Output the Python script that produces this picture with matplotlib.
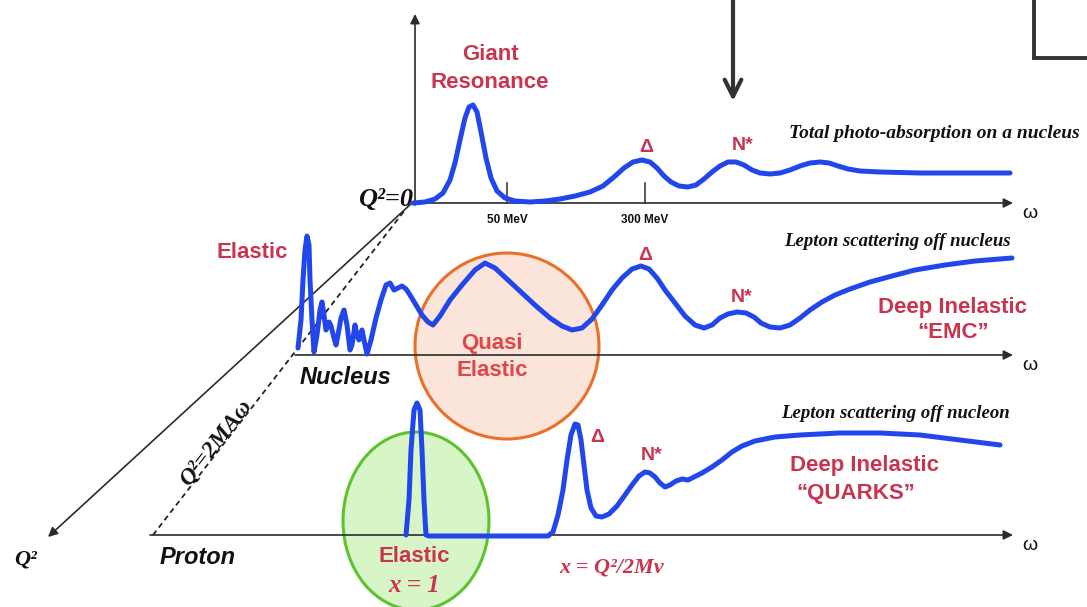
import matplotlib
matplotlib.use("Agg")
import matplotlib.pyplot as plt
from matplotlib.patches import Ellipse

# curves, in pixel coords (y down)
top_x = [413, 425, 435, 443, 450, 455, 460, 465, 469, 473, 477, 481, 486, 491, 497, 505, 515, 530, 545, 560,
         575, 590, 603, 614, 624, 633, 642, 650, 657, 664, 671, 679, 688, 696, 704, 712, 720, 728, 736, 744,
         752, 760, 770, 780, 790, 800, 810, 820, 829, 838, 848, 860, 880, 920, 1010]
top_y = [203, 202, 199, 193, 180, 163, 140, 118, 107, 105, 112, 132, 158, 178, 191, 198, 201, 202, 201, 199,
         196, 192, 186, 177, 168, 162, 160, 162, 168, 176, 182, 186, 187, 185, 179, 172, 166, 162, 162, 165,
         170, 173, 174, 173, 170, 166, 163, 162, 163, 166, 169, 171, 172, 173, 173]

mid_x = [298, 301, 303, 305, 307, 309, 310, 312, 314, 317, 320, 322, 324, 326, 329, 331, 334, 336, 338, 341,
         344, 347, 350, 352, 355, 357, 359, 362, 364, 367, 371, 376, 381, 386, 390, 394, 398, 402, 406, 410,
         416, 422, 428, 433, 440, 450, 462, 475, 485, 495, 508, 522, 536, 550, 562, 572, 582, 592, 602, 612,
         622, 632, 641, 649, 657, 665, 675, 685, 695, 704, 712, 720, 728, 737, 746, 754, 761, 770, 780, 790,
         800, 810, 822, 835, 850, 870, 892, 915, 945, 975, 1012]
mid_y = [348, 320, 280, 250, 236, 245, 280, 320, 352, 335, 310, 302, 315, 330, 322, 326, 338, 345, 335, 318,
         310, 325, 350, 345, 325, 335, 340, 330, 340, 354, 340, 318, 300, 285, 283, 290, 288, 286, 289, 295,
         305, 315, 322, 325, 316, 300, 285, 270, 263, 268, 280, 293, 306, 318, 326, 330, 328, 319, 305, 290,
         278, 269, 266, 269, 278, 290, 303, 316, 325, 328, 325, 318, 314, 312, 313, 317, 323, 327, 328, 325,
         318, 310, 302, 295, 289, 282, 276, 270, 265, 261, 258]

bot_x = [406, 409, 411, 414, 417, 420, 422, 424, 426, 429, 450, 480, 520, 548, 553, 558, 563, 567, 571, 575,
         578, 581, 584, 587, 591, 596, 602, 609, 617, 625, 632, 639, 645, 650, 655, 660, 665, 670, 676, 682,
         688, 694, 702, 712, 722, 732, 742, 755, 775, 800, 840, 880, 920, 960, 1000]
bot_y = [535, 500, 450, 410, 403, 410, 450, 500, 535, 536, 536, 536, 536, 536, 532, 515, 490, 460, 435, 424,
         425, 440, 465, 490, 508, 516, 517, 514, 506, 495, 485, 476, 472, 473, 477, 483, 487, 485, 481, 479,
         480, 477, 473, 467, 460, 452, 446, 441, 437, 435, 433, 433, 435, 440, 445]

baselines_y = [203, 355, 535]
baseline_start = [415, 295, 150]
tick_x = [507, 645]
tick_labels = ["50 MeV", "300 MeV"]

RED = "#c9344f"
QRED = "#e0454a"
BLUE = "#2146ec"
INK = "#2b2b2b"
SANS = "Liberation Sans"
SERIF = "Liberation Serif"

fig = plt.figure(figsize=(10.87, 6.07), dpi=100)
ax = fig.add_axes([0, 0, 1, 1])
ax.set_xlim(0, 1087)
ax.set_ylim(607, 0)
ax.axis("off")

# highlight regions
ax.add_patch(Ellipse((507, 346), 184, 186, facecolor="#fbe4d9", edgecolor="#ea6f2b", lw=2.2, zorder=1))
ax.add_patch(Ellipse((416, 521), 146, 178, facecolor="#d8f5c8", edgecolor="#5cc230", lw=2.2, zorder=1))

arrow = dict(arrowstyle="-|>", lw=1.2, color=INK, mutation_scale=14, shrinkA=0, shrinkB=0)

# axes of the sketch
ax.annotate("", xy=(415, 14), xytext=(415, 205), arrowprops=arrow, zorder=2)
for y0, x0 in zip(baselines_y, baseline_start):
    ax.annotate("", xy=(1013, y0), xytext=(x0, y0), arrowprops=arrow, zorder=2)
    ax.text(1022, y0 + 10, "ω", fontsize=14, family=SANS, ha="left", va="center", color="#111")
ax.annotate("", xy=(48, 537), xytext=(412, 203), arrowprops=arrow, zorder=2)
ax.plot([153, 405], [535, 210], ls=(0, (3, 2.2)), lw=1.3, color="#222", zorder=2)

for tx, tl in zip(tick_x, tick_labels):
    ax.plot([tx, tx], [183, 203], lw=1.1, color=INK, zorder=2)
    ax.text(tx, 220, tl, fontsize=8.5, family=SANS, weight="bold", ha="center", va="center", color="#111")

# spectra
for xs, ys in [(top_x, top_y), (mid_x, mid_y), (bot_x, bot_y)]:
    ax.plot(xs, ys, color=BLUE, lw=3.6, solid_joinstyle="round", solid_capstyle="round", zorder=3)

# top-right decorations
ax.annotate("", xy=(733, 101), xytext=(733, -2),
            arrowprops=dict(arrowstyle="->", lw=3, color="#333", mutation_scale=30, shrinkA=0, shrinkB=0))
ax.plot([1034, 1034, 1090], [-2, 58, 58], lw=2.8, color="#333", solid_joinstyle="miter")

# red labels
lab = dict(family=SANS, weight="bold", ha="center", va="center", color=RED)
ax.text(490, 55, "Giant", fontsize=16, **lab)
ax.text(490, 83, "Resonance", fontsize=16, **lab)
ax.text(646, 147, "Δ", fontsize=14, **lab)
ax.text(743, 146, "N*", fontsize=14, **lab)
ax.text(252, 252, "Elastic", fontsize=16, **lab)
ax.text(645, 255, "Δ", fontsize=14, **lab)
ax.text(742, 297, "N*", fontsize=14, **lab)
ax.text(953, 307, "Deep Inelastic", fontsize=16, **lab)
ax.text(953, 333, "“EMC”", fontsize=16, **lab)
ax.text(597, 437, "Δ", fontsize=14, **lab)
ax.text(652, 455, "N*", fontsize=14, **lab)
ax.text(864, 466, "Deep Inelastic", fontsize=16, **lab)
ax.text(856, 494, "“QUARKS”", fontsize=16, **lab)
ax.text(414, 557, "Elastic", fontsize=16, **lab)
qlab = dict(lab, color=QRED)
ax.text(492, 344, "Quasi", fontsize=16, **qlab)
ax.text(492, 370, "Elastic", fontsize=16, **qlab)

sty = dict(family=SERIF, weight="bold", style="italic", va="center")
ax.text(414, 585, "x = 1", fontsize=18, ha="center", color=RED, **sty)
ax.text(612, 567, "x = Q²/2Mv", fontsize=16, ha="center", color=RED, **sty)

# black annotations
ax.text(934, 133, "Total photo-absorption on a nucleus", fontsize=14, ha="center", color="#111", **sty)
ax.text(897, 242, "Lepton scattering off nucleus", fontsize=13.5, ha="center", color="#111", **sty)
ax.text(895, 413, "Lepton scattering off nucleon", fontsize=13.5, ha="center", color="#111", **sty)
ax.text(413, 199, "Q²=0", fontsize=19, ha="right", color="#111", **sty)
ax.text(26, 560, "Q²", fontsize=16, ha="center", color="#111", **sty)
ax.text(216, 443, "Q²=2MAω", fontsize=17, ha="center", color="#111", rotation=52, **sty)
ax.text(345, 377, "Nucleus", fontsize=17, ha="center", color="#111",
        family=SANS, weight="bold", style="italic", va="center")
ax.text(198, 558, "Proton", fontsize=17, ha="center", color="#111",
        family=SANS, weight="bold", style="italic", va="center")

fig.savefig("out.png", dpi=100)
